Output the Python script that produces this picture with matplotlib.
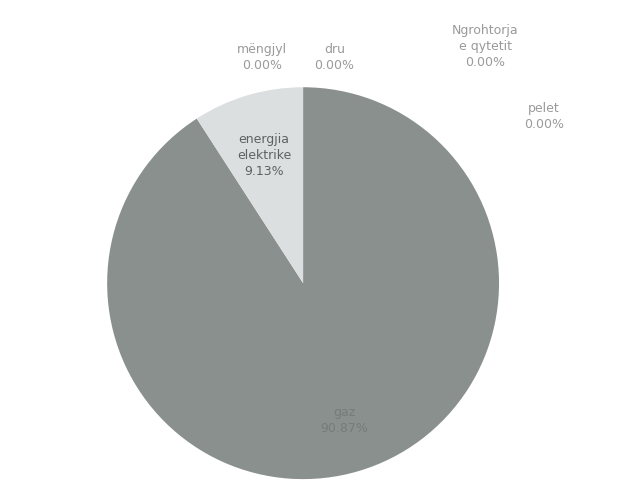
import matplotlib.pyplot as plt

# heating source shares (%)
sources = ["gaz", "energjia\nelektrike", "mëngjyl", "dru", "Ngrohtorja\ne qytetit", "pelet"]
shares = [90.87, 9.13, 0.00, 0.00, 0.00, 0.00]
colors = ["#8a908d", "#dcdfdf", "#c9cfcc", "#b5bcb9", "#a4aaa7", "#949a97"]

# label anchor points, in pie units (radius 1)
label_pos = [(0.21, -0.70), (-0.20, 0.65), (-0.21, 1.15), (0.16, 1.15), (0.93, 1.21), (1.23, 0.85)]
label_color = ["#767c79", "#5e6260", "#9a9a9a", "#9a9a9a", "#9a9a9a", "#9a9a9a"]

fig = plt.figure(figsize=(6.23, 4.82), dpi=100)
ax = fig.add_axes([0.172, 0.006, 0.629, 0.813])

ax.pie(shares, colors=colors, startangle=90, counterclock=False,
       wedgeprops=dict(linewidth=0))

for name, val, (x, y), c in zip(sources, shares, label_pos, label_color):
    ax.text(x, y, f"{name}\n{val:.2f}%", ha="center", va="center",
            fontsize=9, color=c, linespacing=1.3)

ax.set_xlim(-1, 1)
ax.set_ylim(-1, 1)
ax.set_aspect("auto")
ax.axis("off")

fig.savefig("out.png", dpi=100)
